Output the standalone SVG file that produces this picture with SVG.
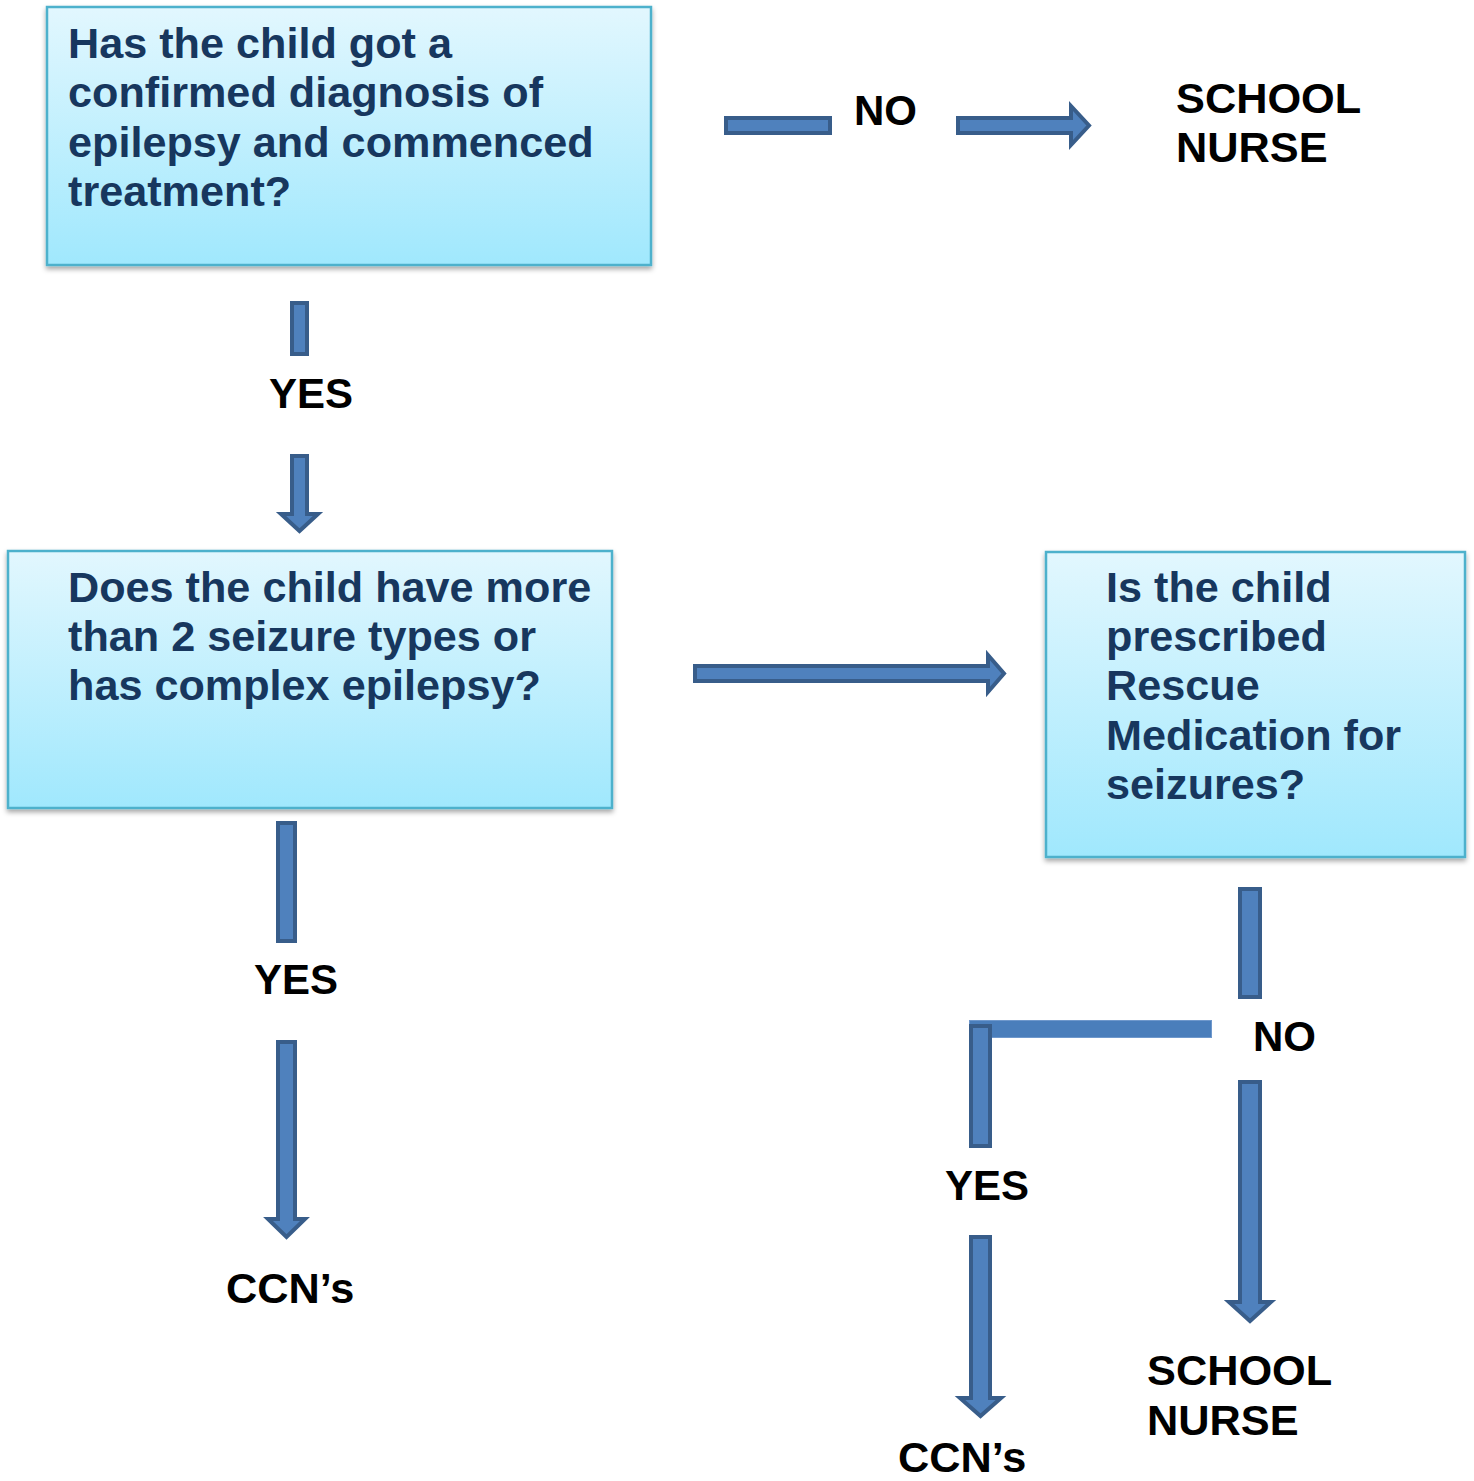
<svg xmlns="http://www.w3.org/2000/svg" width="1474" height="1481" viewBox="0 0 1474 1481">
<defs>
<linearGradient id="boxfill" x1="0" y1="0" x2="0" y2="1">
<stop offset="0" stop-color="#e2f7fe"/>
<stop offset="1" stop-color="#a0e8fd"/>
</linearGradient>
<filter id="shadow" x="-5%" y="-5%" width="110%" height="115%">
<feDropShadow dx="0" dy="3" stdDeviation="2.5" flood-color="#000" flood-opacity="0.35"/>
</filter>
<style>
.box{fill:url(#boxfill);stroke:#4eb1cc;stroke-width:2.5;filter:url(#shadow)}
.q{font-family:"Liberation Sans",Arial,sans-serif;font-weight:bold;font-size:43.2px;fill:#17375e}
.lbl{font-family:"Liberation Sans",Arial,sans-serif;font-weight:bold;font-size:42px;fill:#000}
.big{font-size:43.3px}
.arr{fill:#4f81bd;stroke:#385d8a;stroke-width:4;stroke-linejoin:miter}
.bar{fill:#4a7ebb;stroke:#6f98cc;stroke-width:1}
</style>
</defs>
<rect width="1474" height="1481" fill="#fff"/>

<g id="q1">
<rect class="box" x="47" y="7" width="604" height="258"/>
<text class="q"><tspan x="68" y="58">Has the child got a</tspan><tspan x="68" y="107">confirmed diagnosis of</tspan><tspan x="68" y="157">epilepsy and commenced</tspan><tspan x="68" y="206">treatment?</tspan></text>
</g>

<g id="q2">
<rect class="box" x="8" y="551" width="604" height="257"/>
<text class="q"><tspan x="68" y="602">Does the child have more</tspan><tspan x="68" y="651">than 2 seizure types or</tspan><tspan x="68" y="700">has complex epilepsy?</tspan></text>
</g>

<g id="q3">
<rect class="box" x="1046" y="552" width="419" height="305"/>
<text class="q"><tspan x="1106" y="602">Is the child</tspan><tspan x="1106" y="651">prescribed</tspan><tspan x="1106" y="700">Rescue</tspan><tspan x="1106" y="750">Medication for</tspan><tspan x="1106" y="799">seizures?</tspan></text>
</g>

<g id="school-nurse-1">
<text class="lbl big"><tspan x="1176" y="113">SCHOOL</tspan><tspan x="1176" y="162">NURSE</tspan></text>
</g>

<g id="ccn-1">
<text class="lbl big" x="226" y="1303">CCN’s</text>
</g>

<g id="school-nurse-2">
<text class="lbl big"><tspan x="1147" y="1385">SCHOOL</tspan><tspan x="1147" y="1435">NURSE</tspan></text>
</g>

<g id="ccn-2">
<text class="lbl big" x="898" y="1472">CCN’s</text>
</g>

<g id="connectors">
<!-- Q1 -> School nurse (NO) -->
<rect class="arr" x="726" y="118" width="104" height="15"/>
<path class="arr" d="M958,118 H1071 V106 L1089,125.5 L1071,145 V133 H958 Z"/>
<text class="lbl" x="854" y="125">NO</text>

<!-- Q1 -> Q2 (YES) -->
<rect class="arr" x="292" y="303" width="15" height="51"/>
<path class="arr" d="M292,456 H307 V514 H318 L299.5,531 L281,514 H292 Z"/>
<text class="lbl" x="269" y="408">YES</text>

<!-- Q2 -> Q3 -->
<path class="arr" d="M695,666 H988 V655 L1004,673.5 L988,692 V681 H695 Z"/>

<!-- Q2 -> CCN's (YES) -->
<rect class="arr" x="278" y="823" width="17" height="118"/>
<path class="arr" d="M278,1042 H295 V1219 H305 L286.5,1237 L268,1219 H278 Z"/>
<text class="lbl" x="254" y="994">YES</text>

<!-- Q3 branches -->
<rect class="arr" x="1240" y="889" width="20" height="108"/>
<text class="lbl" x="1253" y="1051">NO</text>
<path class="arr" d="M1240,1082 H1260 V1302 H1271 L1250,1321 L1229,1302 H1240 Z"/>

<rect class="bar" x="969.5" y="1020.5" width="242" height="17"/>
<rect class="arr" x="971" y="1026" width="19" height="120"/>
<text class="lbl" x="945" y="1200">YES</text>
<path class="arr" d="M971,1237 H990 V1398 H1001 L980.5,1416 L960,1398 H971 Z"/>
</g>
</svg>
